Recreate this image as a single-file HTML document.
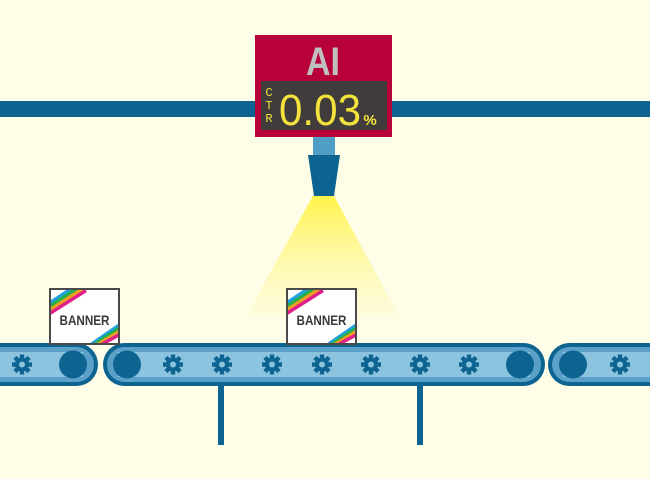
<!DOCTYPE html>
<html><head><style>html,body{margin:0;padding:0;background:#fefde8;}svg{display:block}</style></head>
<body>
<svg width="650" height="479" viewBox="0 0 650 479" xmlns="http://www.w3.org/2000/svg">
<defs>
<linearGradient id="lg" x1="0" y1="0" x2="0" y2="1">
<stop offset="0" stop-color="#fff34a" stop-opacity="1"/>
<stop offset="1" stop-color="#fff7a0" stop-opacity="0.15"/>
</linearGradient>
<g id="gear">
<g fill="#0d6491">
<circle r="7"/>
<rect x="-2.2" y="-10" width="4.4" height="20"/>
<rect x="-2.2" y="-10" width="4.4" height="20" transform="rotate(45)"/>
<rect x="-2.2" y="-10" width="4.4" height="20" transform="rotate(90)"/>
<rect x="-2.2" y="-10" width="4.4" height="20" transform="rotate(135)"/>
</g>
<circle r="3" fill="#8cc3de"/>
</g>
<clipPath id="bc"><rect x="1" y="1" width="67" height="53"/></clipPath>
<g id="banner">
<rect x="0" y="0" width="69" height="55" fill="#fff" stroke="#4a4a4a" stroke-width="2"/>
<g clip-path="url(#bc)" stroke-width="3.5">
<line x1="-5" y1="17" x2="30" y2="-6" stroke="#1fa0e0"/>
<line x1="-5" y1="20.5" x2="32" y2="-3.5" stroke="#27b04a"/>
<line x1="-5" y1="24" x2="34" y2="-1" stroke="#f0a020"/>
<line x1="-5" y1="27.5" x2="36" y2="1.5" stroke="#e0208a"/>
<line x1="36" y1="59" x2="75" y2="32" stroke="#1fa0e0"/>
<line x1="39" y1="59" x2="75" y2="35.5" stroke="#27b04a"/>
<line x1="42" y1="59" x2="75" y2="39" stroke="#f0a020"/>
<line x1="45" y1="59" x2="75" y2="42.5" stroke="#e0208a"/>
</g>
<text x="34.5" y="36" text-anchor="middle" font-family="Liberation Sans Narrow, Liberation Sans, sans-serif" font-size="14" font-weight="bold" fill="#3a3a3a" textLength="50" lengthAdjust="spacingAndGlyphs">BANNER</text>
</g>
</defs>
<rect width="650" height="479" fill="#fefde8"/>
<polygon points="313,196 334,196 400,318 245,318" fill="url(#lg)"/>
<rect x="0" y="101" width="650" height="16" fill="#0d6491"/>
<rect x="313" y="136" width="22" height="20" fill="#4f9ec6"/>
<polygon points="308,155 340,155 334,196 314,196" fill="#0d6491"/>
<rect x="255" y="35" width="137" height="102" fill="#b8003a"/>
<text x="323" y="75" text-anchor="middle" font-family="Liberation Sans Narrow, Liberation Sans, sans-serif" font-size="40" font-weight="bold" fill="#c0c0c0" textLength="34" lengthAdjust="spacingAndGlyphs">AI</text>
<rect x="261" y="81" width="126" height="49" fill="#403c3c"/>
<text x="269" y="96" font-family="Liberation Mono, monospace" font-size="12" fill="#f3e33a" text-anchor="middle">C</text>
<text x="269" y="109" font-family="Liberation Mono, monospace" font-size="12" fill="#f3e33a" text-anchor="middle">T</text>
<text x="269" y="122" font-family="Liberation Mono, monospace" font-size="12" fill="#f3e33a" text-anchor="middle">R</text>
<text x="279" y="125" font-family="Liberation Sans, sans-serif" font-size="44" fill="#f3e33a" textLength="82" lengthAdjust="spacingAndGlyphs">0.03</text>
<text x="370" y="125" font-family="Liberation Sans, sans-serif" font-size="15" font-weight="bold" fill="#f3e33a" text-anchor="middle">%</text>
<rect x="218" y="384" width="6" height="61" fill="#0d6491"/>
<rect x="417" y="384" width="6" height="61" fill="#0d6491"/>
<g>
<rect x="-30" y="343" width="128" height="43" rx="21.5" fill="#0d6491"/>
<rect x="-27" y="347" width="121" height="35" rx="17.5" fill="#5aa0c8"/>
<rect x="-27" y="352" width="110" height="25" fill="#8cc3de"/>
<circle cx="73" cy="364.5" r="14" fill="#0d6491"/>
</g>
<g>
<rect x="103" y="343" width="442" height="43" rx="21.5" fill="#0d6491"/>
<rect x="107" y="347" width="434" height="35" rx="17.5" fill="#5aa0c8"/>
<rect x="118" y="352" width="412" height="25" fill="#8cc3de"/>
<circle cx="127" cy="364.5" r="14" fill="#0d6491"/>
<circle cx="520" cy="364.5" r="14" fill="#0d6491"/>
</g>
<g>
<rect x="548" y="343" width="140" height="43" rx="21.5" fill="#0d6491"/>
<rect x="552" y="347" width="132" height="35" rx="17.5" fill="#5aa0c8"/>
<rect x="563" y="352" width="100" height="25" fill="#8cc3de"/>
<circle cx="573" cy="364.5" r="14" fill="#0d6491"/>
</g>
<use href="#gear" x="22" y="364.5"/>
<use href="#gear" x="173" y="364.5"/>
<use href="#gear" x="222" y="364.5"/>
<use href="#gear" x="272" y="364.5"/>
<use href="#gear" x="322" y="364.5"/>
<use href="#gear" x="371" y="364.5"/>
<use href="#gear" x="420" y="364.5"/>
<use href="#gear" x="469" y="364.5"/>
<use href="#gear" x="620" y="364.5"/>
<use href="#banner" x="50" y="289"/>
<use href="#banner" x="287" y="289"/>
</svg>
</body></html>
